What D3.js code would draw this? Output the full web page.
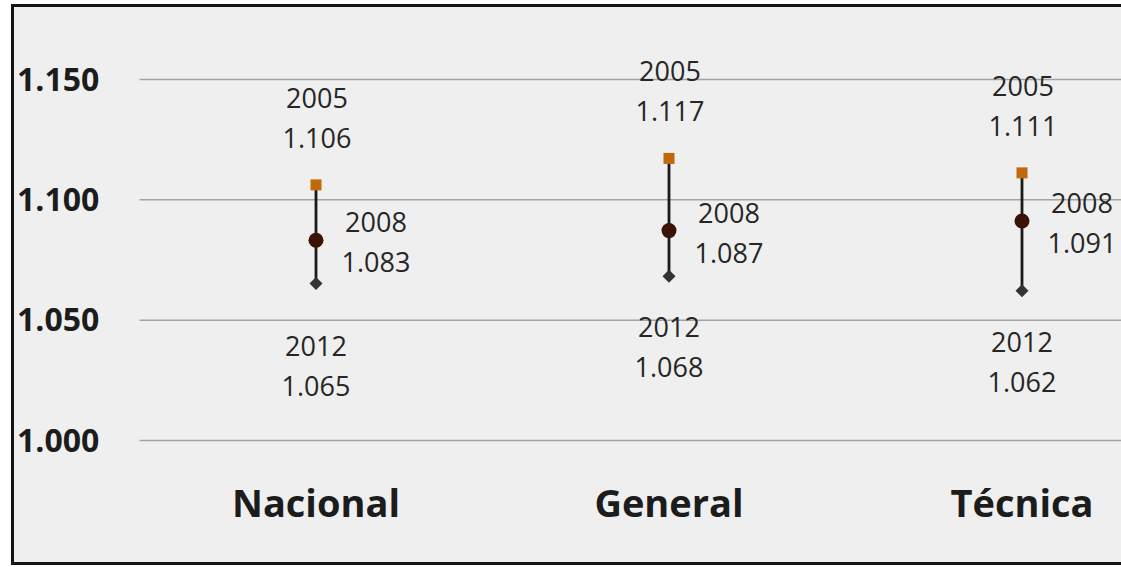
<!DOCTYPE html>
<html>
<head>
<meta charset="utf-8">
<script src="https://cdn.jsdelivr.net/npm/d3@7"></script>
<style>
  html, body { margin: 0; padding: 0; background: #ffffff; }
  svg { display: block; }
</style>
</head>
<body>
<svg id="chart" width="1121" height="567"></svg>
<script>
// ---- data ----
const categories = ["Nacional", "General", "Técnica"];
const years = ["2005", "2008", "2012"];
const values2005 = [1.106, 1.117, 1.111];
const values2008 = [1.083, 1.087, 1.091];
const values2012 = [1.065, 1.068, 1.062];
const yTicks = [1.000, 1.050, 1.100, 1.150];
const yTickLabels = ["1.000", "1.050", "1.100", "1.150"];
const valueLabels2005 = ["1.106", "1.117", "1.111"];
const valueLabels2008 = ["1.083", "1.087", "1.091"];
const valueLabels2012 = ["1.065", "1.068", "1.062"];

// ---- layout / style ----
const W = 1121, H = 567;
const svg = d3.select("#chart");
const font = "'Open Sans', 'Noto Sans', sans-serif";
const labelNudge2012 = [11, 0, 0];

// frame + background
svg.append("rect").attr("x", 12.5).attr("y", 5.5).attr("width", W + 20).attr("height", 558)
  .attr("fill", "#efefef").attr("stroke", "#141414").attr("stroke-width", 3);

const x = d3.scaleBand().domain(categories).range([139.5, 1198.5]).padding(0);
const y = d3.scaleLinear().domain([1.0, 1.15]).range([440, 79]);

// gridlines + y labels via axis
const yAxis = d3.axisLeft(y).tickValues(yTicks)
  .tickFormat((d, i) => yTickLabels[i]).tickSize(-(1198.5 - 139.5)).tickPadding(0);
const gy = svg.append("g").attr("transform", "translate(139.5,0)").call(yAxis);
gy.select(".domain").remove();
gy.selectAll(".tick line").attr("stroke", "#a3a3a3").attr("stroke-width", 1.5);
gy.selectAll(".tick text")
  .attr("x", 17 - 139.5).attr("text-anchor", "start").attr("dy", "0.35em")
  .style("font-family", font).style("font-size", "32px").style("font-weight", "bold")
  .attr("fill", "#1c1c1c");

// x category labels
const gx = svg.append("g").attr("transform", "translate(0,517)")
  .call(d3.axisBottom(x).tickSize(0).tickPadding(0));
gx.select(".domain").remove();
gx.selectAll(".tick text").attr("dy", 0).attr("y", 0)
  .style("font-family", font).style("font-size", "38px").style("font-weight", "bold")
  .attr("fill", "#1c1c1c");

const cx = c => x(c) + x.bandwidth() / 2;

const g = svg.append("g");
// vertical range lines
g.selectAll("line.range").data(categories).join("line")
  .attr("x1", d => cx(d)).attr("x2", d => cx(d))
  .attr("y1", (d, i) => y(values2005[i])).attr("y2", (d, i) => y(values2012[i]))
  .attr("stroke", "#1a1a1a").attr("stroke-width", 2.8);

// 2012 diamonds
g.selectAll("path.d2012").data(categories).join("path")
  .attr("d", d3.symbol().type(d3.symbolSquare).size(85))
  .attr("transform", (d, i) => `translate(${cx(d)},${y(values2012[i])}) rotate(45)`)
  .attr("fill", "#333333");

// 2008 circles
g.selectAll("circle.d2008").data(categories).join("circle")
  .attr("cx", d => cx(d)).attr("cy", (d, i) => y(values2008[i])).attr("r", 7.5)
  .attr("fill", "#3a1206");

// 2005 squares
g.selectAll("rect.d2005").data(categories).join("rect")
  .attr("x", d => cx(d) - 5.5).attr("y", (d, i) => y(values2005[i]) - 5.5)
  .attr("width", 11).attr("height", 11).attr("fill", "#c2680c");

// labels
function addLabel(px, py, txt) {
  g.append("text").attr("x", px).attr("y", py).attr("text-anchor", "middle")
    .style("font-family", font).style("font-size", "27px").attr("fill", "#262626")
    .text(txt);
}
categories.forEach((c, i) => {
  const X = cx(c);
  const y05 = y(values2005[i]);
  addLabel(X + 1, y05 - 87 + 10, years[0]);
  addLabel(X + 1, y05 - 47 + 10, valueLabels2005[i]);
  const y08 = y(values2008[i]);
  addLabel(X + 60, y08 - 18 + 10, years[1]);
  addLabel(X + 60, y08 + 22 + 10, valueLabels2008[i]);
  const y12 = y(values2012[i]) + labelNudge2012[i];
  addLabel(X, y12 + 51 + 10, years[2]);
  addLabel(X, y12 + 91 + 10, valueLabels2012[i]);
});
</script>
</body>
</html>
